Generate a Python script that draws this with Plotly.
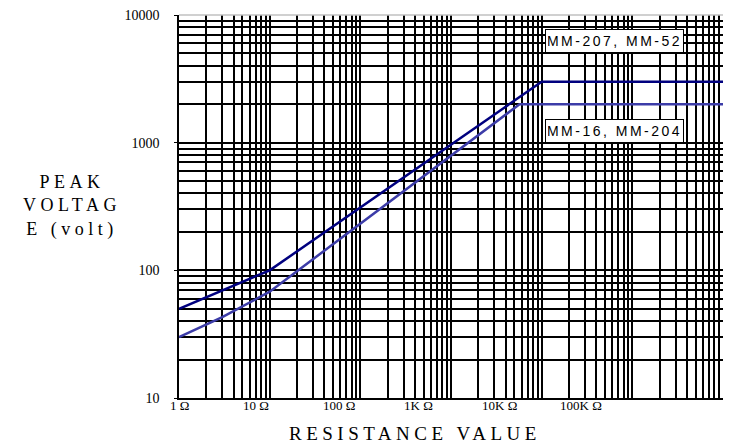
import plotly.graph_objects as go

# Data (resistance in ohms, peak voltage in volts)
res_a = [1, 3, 10, 10000, 1000000]
volt_a = [50, 70, 100, 3000, 3000]
name_a = "MM-207, MM-52"

res_b = [1, 3, 10, 5700, 1000000]
volt_b = [30, 43, 68, 2000, 2000]
name_b = "MM-16, MM-204"

x_labels = ["1 Ω", "10 Ω", "100 Ω", "1K Ω", "10K Ω", "100K Ω"]
x_label_pos = [0.0, 0.141, 0.295, 0.441, 0.589, 0.739]  # paper positions of the labels

SERIF = "Liberation Serif"
SANS = "Liberation Sans"

L, R, T, B = 179, 8, 10, 50
W, H = 731, 448
PW, PH = W - L - R, H - T - B

fig = go.Figure()
fig.add_trace(go.Scatter(x=res_a, y=volt_a, mode="lines", line=dict(color="#00007f", width=2.5),
                         showlegend=False, hoverinfo="skip"))
fig.add_trace(go.Scatter(x=res_b, y=volt_b, mode="lines", line=dict(color="#3c3ca8", width=2.5),
                         showlegend=False, hoverinfo="skip"))

fig.update_xaxes(type="log", range=[0, 6], showgrid=True, gridcolor="black", gridwidth=1.5,
                 minor=dict(dtick="D1", showgrid=True, gridcolor="black", gridwidth=1.5),
                 showticklabels=False, ticks="", showline=True, linecolor="black", linewidth=1.5,
                 zeroline=False)
fig.update_yaxes(type="log", range=[1, 4], showgrid=True, gridcolor="black", gridwidth=1.5,
                 minor=dict(dtick="D1", showgrid=True, gridcolor="black", gridwidth=1.5),
                 tickvals=[10, 100, 1000, 10000], ticktext=["10", "100", "1000", "10000"],
                 ticks="outside", ticklen=3, tickcolor="black",
                 tickfont=dict(family=SERIF, size=14, color="black"),
                 ticklabelstandoff=12,
                 showline=True, linecolor="black", linewidth=1.5, zeroline=False)

annotations = []
for txt, px in zip(x_labels, x_label_pos):
    annotations.append(dict(x=px, y=(H - B - 406) / PH, xref="paper", yref="paper", text=txt,
                            showarrow=False, font=dict(family=SERIF, size=13, color="black"),
                            xanchor="center", yanchor="middle"))

annotations.append(dict(x=(415 - L) / PW, y=(H - B - 434) / PH, xref="paper", yref="paper",
                        text='<span style="letter-spacing:4.5px">RESISTANCE VALUE</span>', showarrow=False,
                        font=dict(family=SERIF, size=19, color="black"),
                        xanchor="center", yanchor="middle"))
annotations.append(dict(x=(72 - L) / PW, y=(H - B - 203) / PH, xref="paper", yref="paper",
                        text='<span style="letter-spacing:4.5px">PEAK<br>VOLTAG<br>E (volt)</span>',
                        showarrow=False, align="center",
                        font=dict(family=SERIF, size=18, color="black"),
                        xanchor="center", yanchor="middle"))
for nm, yc in ((name_a, 36), (name_b, 128)):
    annotations.append(dict(x=(545 - L) / PW, y=(H - B - yc) / PH, xref="paper", yref="paper",
                            text='<span style="letter-spacing:2.5px">' + nm + '</span>', showarrow=False,
                            font=dict(family=SANS, size=14, color="black"),
                            width=133, height=18, align="center", valign="middle",
                            xanchor="left", yanchor="middle", bgcolor="white", bordercolor="black",
                            borderwidth=1, borderpad=2))

fig.update_layout(width=W, height=H, margin=dict(l=L, r=R, t=T, b=B, pad=0),
                  plot_bgcolor="white", paper_bgcolor="white", annotations=annotations,
                  shapes=[dict(type="line", xref="paper", yref="paper", x0=0, x1=1, y0=1, y1=1,
                               line=dict(color="#c0c0c0", width=1.5))])
fig.write_html("out.html")
